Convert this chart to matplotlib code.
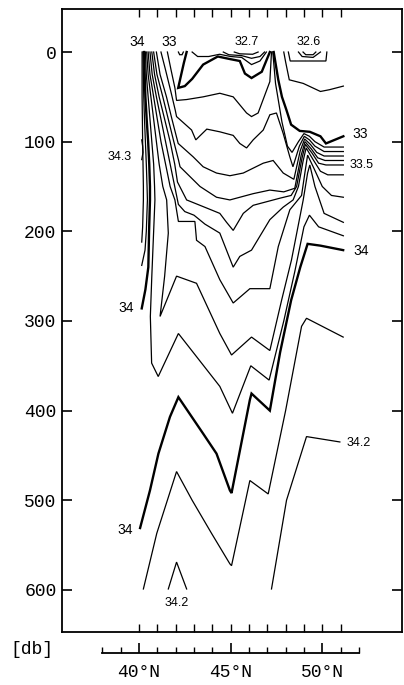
import matplotlib
matplotlib.use("Agg")
import matplotlib.pyplot as plt

# ---------------- data (latitude [deg N], pressure [db]) ----------------
depth_ticks = [0, 100, 200, 300, 400, 500, 600]
station_lats = [40, 41, 42, 43, 44, 45, 46, 47, 48, 49, 50, 51]
lat_major = [40, 45, 50]
lat_labels = ["40°N", "45°N", "50°N"]
lat_minor = list(range(38, 53))

# isohalines: (latitude, pressure)
s343 = [(40.15, 98), (40.2, 105), (40.22, 112), (40.15, 120)]
s342_top = [(40.17, 0), (40.17, 50), (40.2, 100), (40.22, 125), (40.24, 150),
            (40.24, 165), (40.2, 195), (40.15, 212)]
s341_top = [(40.22, 0), (40.24, 25), (40.26, 50), (40.3, 75), (40.35, 100), (40.4, 125),
            (40.44, 150), (40.46, 165), (40.4, 200), (40.33, 221), (40.15, 238)]
s340_top = [(40.28, 0), (40.31, 25), (40.35, 50), (40.42, 75), (40.5, 100), (40.56, 125),
            (40.6, 150), (40.6, 165), (40.55, 200), (40.51, 240), (40.35, 265), (40.15, 286)]
s339 = [(40.35, 0), (40.4, 25), (40.5, 50), (40.6, 75), (40.7, 100), (40.8, 125),
        (40.85, 150), (40.87, 165), (40.8, 200), (40.7, 250), (40.62, 295), (40.69, 347),
        (41.05, 362), (42.15, 314), (43.3, 344), (44.41, 373), (45.1, 403), (46.1, 350),
        (47.1, 366), (47.9, 300), (48.5, 245), (49.0, 195), (49.3, 182), (49.8, 195),
        (51.15, 205)]
s338 = [(40.42, 0), (40.5, 25), (40.65, 50), (40.8, 75), (40.95, 100), (41.1, 125),
        (41.3, 150), (41.51, 165), (41.6, 202), (41.4, 250), (41.15, 295), (42.05, 250),
        (43.14, 258), (44.41, 314), (45.05, 338), (46.14, 318), (47.14, 333), (47.78, 277),
        (48.32, 232), (48.96, 165), (49.2, 135), (49.32, 126), (49.6, 150), (50.1, 180),
        (51.15, 190)]
s337 = [(40.5, 0), (40.6, 25), (40.8, 50), (41.0, 75), (41.2, 100), (41.45, 125),
        (41.7, 150), (41.96, 165), (42.15, 189), (43.05, 189), (43.14, 210), (43.6, 217),
        (44.41, 254), (45.14, 280), (46.05, 264), (47.14, 264), (47.6, 217), (48.23, 176),
        (48.87, 160), (49.05, 135), (49.2, 115), (49.55, 130), (50.0, 150), (50.5, 160),
        (51.15, 162)]
s336 = [(40.6, 0), (40.72, 25), (40.95, 50), (41.2, 75), (41.45, 100), (41.7, 125),
        (41.95, 150), (42.15, 170), (42.5, 178), (43.0, 182), (43.6, 192), (44.41, 202),
        (45.14, 240), (45.5, 228), (46.14, 221), (47.14, 187), (47.87, 173), (48.41, 165),
        (48.7, 150), (48.95, 122), (49.12, 107), (49.5, 120), (49.9, 133), (50.3, 137),
        (51.15, 137)]
s335 = [(40.7, 0), (40.85, 25), (41.1, 50), (41.4, 75), (41.7, 100), (41.95, 125),
        (42.1, 145), (42.6, 165), (43.69, 174), (44.41, 180), (44.78, 190), (45.14, 199),
        (45.69, 180), (46.23, 171), (47.7, 163), (48.3, 160), (48.6, 150), (48.9, 118),
        (49.08, 103), (49.45, 113), (49.8, 124), (50.2, 126), (51.15, 126)]
s334 = [(40.8, 0), (40.98, 25), (41.3, 50), (41.6, 75), (41.9, 100), (42.15, 120),
        (42.24, 128), (43.33, 150), (44.23, 162), (44.96, 165), (46.23, 158), (47.14, 154),
        (47.9, 156), (48.5, 152), (48.85, 115), (49.06, 100), (49.4, 108), (49.75, 118),
        (50.15, 121), (51.15, 121)]
s333 = [(40.95, 0), (41.15, 25), (41.5, 50), (41.8, 75), (42.05, 95), (42.14, 102),
        (42.96, 117), (43.5, 128), (44.23, 135), (44.96, 138), (45.69, 135), (46.78, 124),
        (47.32, 121), (47.87, 135), (48.45, 142), (48.8, 110), (49.04, 97), (49.35, 103),
        (49.7, 112), (50.1, 116), (51.15, 116)]
s332 = [(41.2, 0), (41.45, 20), (41.75, 45), (41.98, 65), (42.05, 72), (42.87, 87),
        (43.1, 98), (43.7, 86), (44.41, 89), (45.14, 93), (45.5, 102), (45.87, 107),
        (46.23, 98), (46.78, 87), (47.14, 70), (47.5, 68), (47.87, 91), (48.23, 117),
        (48.4, 128), (48.75, 105), (49.02, 94), (49.3, 98), (49.6, 105), (50.1, 111),
        (51.15, 111)]
s331_w = [(41.55, 0), (41.75, 20), (41.96, 40), (42.05, 54), (42.6, 53), (43.5, 50),
          (44.41, 46), (45.14, 50), (45.87, 68), (46.14, 72), (46.5, 68), (47.14, 33),
          (47.23, 0)]
s331_e = [(47.3, 0), (47.45, 35), (47.8, 78), (48.1, 105), (48.35, 112), (48.7, 100),
          (49.0, 91), (49.3, 94), (49.6, 100), (50.1, 106), (51.15, 106)]
s330_w = [(42.6, 0), (42.45, 12), (42.25, 30), (42.14, 40), (42.5, 38), (42.9, 30),
          (43.5, 14), (44.3, 5), (45.0, 8), (45.5, 10), (45.78, 24), (46.14, 29),
          (46.7, 22), (47.14, 0)]
s330_e = [(47.35, 0), (47.6, 31), (47.8, 50), (48.05, 65), (48.3, 81), (48.77, 88),
          (49.32, 89), (49.9, 94), (50.2, 102), (51.15, 94)]
s330_dot = [(42.15, 0), (42.22, 3), (42.35, 3), (42.42, 0)]
s329_w = [(42.9, 0), (43.2, 5), (43.8, 5), (44.4, 2.5), (45.0, 5), (45.6, 6),
          (46.14, 14), (46.6, 10), (46.95, 0)]
s328_w = [(44.6, 0), (44.9, 3), (45.6, 4), (46.14, 7), (46.6, 5), (46.85, 0)]
s327_w = [(45.2, 0), (45.5, 2), (46.2, 2.5), (46.5, 0)]
s328_e = [(47.9, 0), (48.0, 11), (48.2, 31), (48.96, 35), (49.9, 44), (50.4, 42),
          (51.15, 38)]
s327_e = [(48.15, 0), (48.25, 10), (50.2, 10), (50.25, 0)]
s326_a = [(48.7, 0), (48.9, 5), (49.5, 6), (49.9, 0)]
s326_b = [(48.95, 0), (49.1, 3), (49.5, 3), (49.65, 0)]

s340_deep = [(40.06, 531), (40.6, 489), (41.06, 448), (41.69, 407), (42.15, 385),
             (43.51, 426), (44.23, 448), (44.96, 489), (45.05, 492), (46.05, 388),
             (46.14, 381), (47.14, 400), (47.7, 335), (48.3, 277), (48.8, 240),
             (49.2, 214), (49.9, 216), (51.14, 221)]
s341_deep = [(40.24, 599), (40.97, 537), (42.05, 468), (42.9, 500), (43.96, 537),
             (44.96, 571), (45.05, 573), (46.05, 478), (47.05, 493), (48.0, 400),
             (48.87, 306), (49.14, 297), (51.14, 318)]
s342_left = [(41.6, 599), (42.05, 569), (42.6, 599)]
s342_right = [(47.23, 599), (48.05, 500), (49.14, 429), (50.96, 435)]

thin_lines = [s343, s342_top, s341_top, s339, s338, s337, s336, s335, s334, s333, s332,
              s331_w, s331_e, s329_w, s328_w, s327_w, s328_e, s327_e, s326_a, s326_b,
              s341_deep, s342_left, s342_right, s330_dot]
thick_lines = [s340_top, s340_deep, s330_w, s330_e]

# contour labels
labels_lat = [39.92, 41.66, 45.86, 49.24, 38.96, 52.07, 52.15, 52.1, 39.32, 52.0, 39.26, 42.04]
labels_p = [-11, -11, -11, -11, 117, 92, 126, 222, 285, 436, 533, 615]
labels_txt = ["34", "33", "32.7", "32.6", "34.3", "33", "33.5", "34", "34", "34.2", "34", "34.2"]

# ---------------- figure ----------------
W, H = 404, 685
fig = plt.figure(figsize=(W / 100, H / 100), dpi=100)
ax = fig.add_axes([62 / W, 1 - 632 / H, (402 - 62) / W, (632 - 9) / H])
ax.set_xlim(35.8, 54.35)
ax.set_ylim(647, -48)

for ln in thin_lines:
    ax.plot([q[0] for q in ln], [q[1] for q in ln], color="black", lw=0.9,
            solid_joinstyle="miter")
for ln in thick_lines:
    ax.plot([q[0] for q in ln], [q[1] for q in ln], color="black", lw=1.7,
            solid_joinstyle="miter")

for t, la, p in zip(labels_txt, labels_lat, labels_p):
    ax.text(la, p, t, ha="center", va="center", fontsize=10 if "." not in t else 9,
            family="Liberation Sans")

for s in ax.spines.values():
    s.set_linewidth(1.3)
ax.set_yticks(depth_ticks)
ax.set_yticklabels([str(d) for d in depth_ticks], family="Liberation Mono", fontsize=13)
ax.tick_params(axis="y", direction="in", length=7, width=1.2, left=True, right=True, pad=4)
ax.set_xticks(station_lats)
ax.tick_params(axis="x", direction="in", length=6, width=1.0, top=True, bottom=True,
               labelbottom=False)

# separate latitude axis below
ax2 = fig.add_axes([62 / W, 1 - 653 / H, (402 - 62) / W, 0.001])
ax2.set_xlim(35.8, 54.35)
ax2.patch.set_visible(False)
for k in ("left", "right", "top"):
    ax2.spines[k].set_visible(False)
ax2.spines["bottom"].set_bounds(38, 52)
ax2.spines["bottom"].set_linewidth(1.3)
ax2.set_yticks([])
ax2.set_xticks(lat_major)
ax2.set_xticklabels(lat_labels, family="Liberation Mono", fontsize=13)
ax2.set_xticks(lat_minor, minor=True)
ax2.tick_params(axis="x", which="major", direction="in", length=7, width=1.2, pad=8)
ax2.tick_params(axis="x", which="minor", direction="in", length=4, width=1.0)

fig.text(32 / W, 1 - 650 / H, "[db]", ha="center", va="center",
         family="Liberation Mono", fontsize=13)

fig.savefig("out.png", dpi=100)
